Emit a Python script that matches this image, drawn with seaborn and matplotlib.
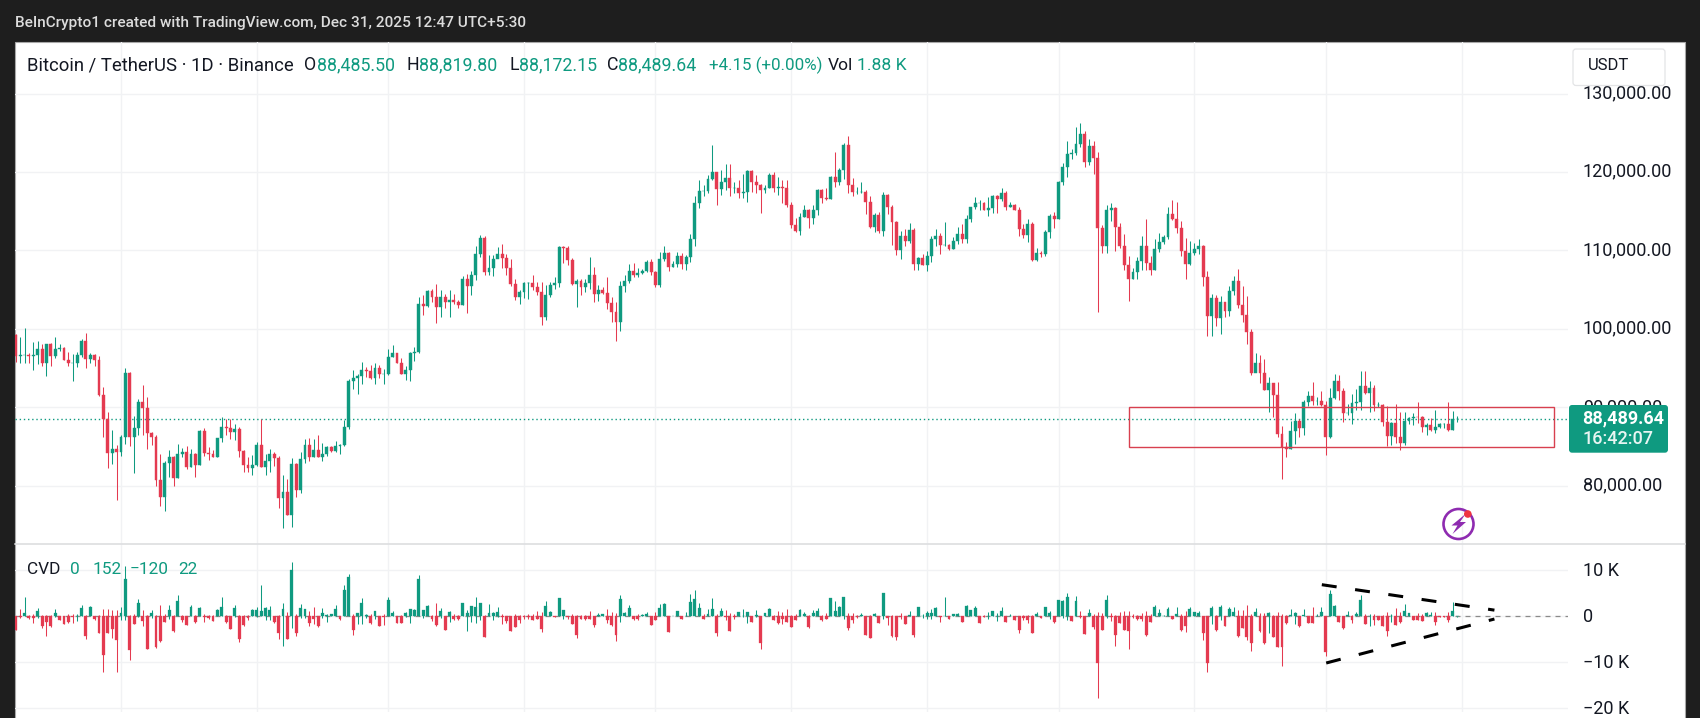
import numpy as np
import pandas as pd
import matplotlib
matplotlib.use("Agg")
import matplotlib.pyplot as plt
import seaborn as sns
from matplotlib.patches import FancyBboxPatch, Rectangle, Circle, Polygon
from matplotlib.transforms import IdentityTransform, ScaledTranslation

first_open = 99.15
close_k = [
 96.5,96.6,96.6,96.5,96.6,97.4,95.7,98.0,96.5,97.4,
 97.6,96.0,95.7,95.7,96.7,98.4,96.1,96.6,96.0,91.5,
 88.5,84.1,84.7,84.3,86.2,94.3,86.2,87.3,90.6,89.9,
 86.7,86.2,80.7,78.5,82.9,83.7,81.0,84.0,84.3,82.4,
 84.0,82.6,86.9,84.1,84.0,83.7,86.1,87.5,87.4,86.8,
 87.2,84.4,82.6,82.3,82.6,85.2,82.4,83.2,84.0,83.5,
 78.4,79.2,76.2,82.7,79.5,83.4,85.2,83.7,84.6,83.6,
 84.0,84.9,84.4,85.1,85.2,87.5,93.4,93.7,94.0,94.7,
 94.6,93.7,95.0,94.2,94.2,96.4,96.9,95.7,94.2,94.8,
 96.9,97.1,103.2,102.9,104.8,104.0,102.8,104.1,103.4,103.7,
 103.4,103.0,106.4,105.4,106.8,109.6,111.6,107.2,107.8,108.9,
 109.6,109.0,107.8,105.7,104.0,104.7,105.8,105.9,105.3,104.7,
 101.5,104.3,105.6,105.8,110.4,110.3,108.8,105.7,106.1,105.3,
 105.8,106.9,104.5,105.0,104.6,103.3,102.1,100.9,105.5,106.1,
 107.4,106.8,107.1,107.4,108.5,107.2,105.6,108.9,109.7,107.9,
 108.3,109.3,108.3,109.1,111.4,116.1,117.6,117.6,119.1,120.0,
 117.8,118.7,119.3,117.9,118.0,117.3,117.4,120.1,118.7,118.3,
 117.7,118.0,119.6,118.0,118.1,118.0,115.8,113.3,112.5,114.3,
 115.2,114.1,115.1,117.7,116.7,116.5,119.4,118.7,120.3,123.4,
 118.3,117.4,117.4,117.4,116.2,113.0,114.5,112.5,117.1,115.5,
 113.6,110.1,111.8,111.2,112.6,108.3,109.0,108.2,109.3,111.4,
 111.9,110.7,110.7,110.2,111.2,112.1,111.5,114.0,115.5,116.1,
 116.1,115.2,115.4,116.9,116.5,117.3,115.6,115.8,115.2,112.7,
 112.0,113.4,108.8,109.7,109.6,112.3,114.4,114.0,118.7,120.7,
 122.3,122.4,123.6,124.8,121.3,123.3,121.8,112.8,110.6,115.1,
 115.4,113.0,110.6,108.1,106.4,107.3,108.7,110.6,108.4,107.5,
 110.2,111.1,111.7,114.6,114.0,112.8,109.9,108.3,109.7,110.2,
 110.6,106.6,101.6,103.9,101.4,103.4,102.3,104.8,106.1,103.0,
 101.7,99.6,94.4,95.7,94.3,92.2,93.1,91.5,86.6,84.9,
 84.7,87.0,88.3,87.4,90.6,91.4,90.8,90.8,90.3,86.2,
 91.2,93.4,92.1,89.3,89.3,90.5,90.6,92.7,91.8,92.5,
 90.3,90.3,88.1,86.3,88.0,86.2,85.4,88.2,88.6,88.8,
 88.7,87.5,87.7,87.1,87.5,87.9,87.9,87.1,88.49,88.49]
high_k = [
 99.4,98.9,100.1,96.9,98.3,98.4,98.1,98.1,98.2,98.9,
 98.0,97.7,97.0,96.8,97.0,98.7,99.5,96.9,96.8,96.5,
 92.6,89.4,87.1,85.2,86.5,95.0,94.5,88.9,91.0,92.8,
 91.3,86.8,86.5,84.0,83.2,84.6,83.8,85.3,84.8,85.0,
 84.7,84.1,87.1,87.4,84.9,84.5,86.1,88.8,88.5,88.5,
 87.8,87.5,84.6,83.6,83.9,85.5,88.5,84.0,84.7,84.3,
 83.8,81.3,80.9,83.5,82.9,84.3,85.9,86.1,85.9,86.5,
 85.4,85.1,85.1,85.7,85.3,88.4,93.6,94.7,94.2,95.8,
 95.1,95.4,95.7,95.4,94.9,97.4,97.9,96.9,96.3,95.2,
 97.0,97.7,104.1,104.3,105.0,105.1,105.7,105.0,104.4,104.9,
 104.5,103.7,106.7,107.0,107.4,110.6,112.0,111.8,109.4,109.4,
 110.4,110.8,109.5,108.9,106.3,104.9,106.0,106.0,106.9,106.0,
 106.0,105.6,106.0,106.6,110.6,110.5,110.5,109.0,106.3,106.4,
 106.3,109.1,107.9,105.6,105.3,106.6,104.1,103.4,106.1,106.9,
 108.3,108.4,107.8,107.6,108.8,108.9,107.4,109.8,110.6,109.8,
 108.7,109.8,109.7,109.4,112.1,117.0,119.0,118.3,119.6,123.4,
 120.0,120.2,121.0,121.0,118.7,119.0,119.7,120.3,120.2,119.6,
 118.5,118.4,119.9,120.0,119.4,119.0,119.0,116.2,114.1,114.8,
 115.8,115.3,115.8,117.8,117.8,118.0,119.5,122.5,120.5,123.7,
 124.6,119.3,118.1,118.7,117.7,116.9,114.8,114.9,117.4,117.2,
 115.8,113.8,112.5,112.7,113.5,112.8,109.1,109.5,109.9,111.9,
 112.7,112.2,113.6,110.8,111.7,113.0,113.4,114.5,115.6,116.8,
 116.4,116.2,116.8,117.1,117.1,118.0,117.6,116.2,115.9,115.5,
 113.4,114.0,113.6,110.3,109.9,112.6,114.7,114.9,118.8,121.1,
 124.0,122.9,125.8,126.3,125.2,124.2,123.9,122.5,113.3,115.8,
 116.1,115.6,113.5,112.1,109.3,107.8,109.2,111.9,114.0,109.3,
 111.4,112.2,112.0,115.5,116.4,116.2,113.8,111.6,111.2,110.9,
 111.4,110.7,107.4,104.5,104.3,104.2,103.4,105.5,106.7,107.6,
 105.4,104.2,100.0,96.9,96.6,96.1,93.9,93.1,93.2,87.6,
 85.6,88.3,89.2,88.5,90.9,92.1,93.2,91.3,92.1,90.8,
 92.4,94.2,94.1,92.4,90.4,91.7,92.3,94.6,94.6,93.4,
 92.8,90.7,90.4,90.1,88.1,90.4,89.4,89.4,88.7,89.2,
 90.6,88.9,88.0,88.6,89.6,88.0,88.0,90.6,89.5,88.82]
low_k = [
 95.8,95.7,95.6,95.7,94.7,95.5,95.3,94.0,95.2,96.3,
 97.2,96.0,95.2,93.4,95.1,96.4,95.0,95.7,95.2,91.4,
 86.2,82.3,82.7,78.2,83.8,85.3,85.1,81.6,86.4,86.4,
 84.7,85.2,80.0,77.4,76.7,81.1,80.0,81.0,83.6,82.1,
 82.4,81.1,82.6,83.8,83.3,83.7,83.7,85.5,86.4,86.0,
 85.8,83.7,81.7,81.7,81.4,82.5,82.4,81.3,81.7,82.5,
 77.2,74.6,76.2,74.7,78.5,79.0,82.9,83.1,83.7,83.6,
 83.1,83.8,84.3,84.3,84.0,85.1,87.2,92.3,91.7,93.0,
 93.8,93.6,92.9,93.7,92.9,94.1,96.4,95.7,94.2,93.5,
 93.4,95.9,96.9,101.7,102.8,103.4,100.7,101.5,102.6,101.5,
 103.2,102.6,103.0,102.0,104.3,106.2,109.2,106.8,106.8,106.7,
 109.0,107.7,106.9,105.5,103.7,103.2,103.9,103.8,105.0,104.3,
 100.5,101.1,104.1,105.1,105.3,108.4,108.2,105.6,102.8,104.3,
 104.7,105.1,103.4,103.5,104.4,102.5,100.9,98.4,99.7,104.7,
 105.9,106.6,106.6,107.0,107.3,106.9,105.3,105.3,108.7,107.4,
 107.9,107.9,107.6,107.5,108.5,110.6,115.4,117.0,117.3,119.0,
 115.8,117.1,117.7,117.0,117.3,116.7,116.7,116.2,117.4,117.3,
 114.8,117.3,117.9,117.4,117.1,116.0,115.6,112.8,112.3,112.0,
 114.2,112.8,113.4,114.5,116.0,116.4,116.5,118.1,118.3,119.1,
 117.3,116.9,117.2,117.3,114.7,112.9,112.4,112.2,111.8,114.7,
 110.7,109.4,108.9,110.5,111.0,107.5,107.5,108.2,107.4,108.5,
 110.6,109.5,110.5,110.1,110.2,110.8,110.9,111.0,113.6,115.3,
 115.2,115.2,114.4,114.8,114.8,116.3,115.2,115.6,115.2,111.9,
 111.6,111.1,108.7,108.6,109.2,109.3,111.6,112.8,114.0,118.4,
 119.4,121.6,122.2,123.2,120.7,120.9,119.8,102.1,109.7,109.7,
 113.7,109.9,110.3,107.5,103.5,106.3,106.3,107.5,107.5,106.8,
 107.5,109.8,110.8,111.4,113.9,112.2,109.3,106.4,108.2,109.4,
 109.5,105.4,99.1,99.1,100.4,99.4,101.5,101.6,104.3,102.6,
 100.9,98.1,94.1,94.5,93.1,92.2,89.4,88.8,86.2,80.8,
 83.7,84.7,85.3,86.2,86.4,90.1,90.3,90.3,90.1,83.9,
 86.1,91.0,90.9,88.1,89.0,87.9,89.6,89.7,91.7,89.4,
 89.5,90.0,87.6,85.1,85.2,85.4,84.6,85.2,87.9,87.7,
 88.0,86.8,86.4,87.0,86.7,87.3,87.3,86.9,87.1,88.17]
cvd_close = [
 -3.0,-0.1,0.8,-0.3,-0.4,1.2,-2.1,-1.2,-2.1,0.7,
 -0.7,-1.6,-1.2,-0.1,0.1,1.7,-4.3,2.1,-0.5,-3.6,
 -8.4,-3.6,-2.7,-5.1,0.8,8.1,-7.3,-1.7,3.0,-1.0,
 -7.1,0.8,-6.7,-5.3,-1.2,1.4,-3.3,3.4,-0.8,-1.9,
 2.1,-1.2,1.9,-0.2,-0.4,-1.0,1.4,2.1,-1.2,-2.7,
 1.7,-5.0,-1.9,-0.4,1.4,1.3,1.2,1.8,1.4,-1.2,
 -3.6,1.5,-4.9,10.1,-3.6,1.7,1.5,-1.5,-0.6,-2.2,
 0.7,0.3,0.5,1.5,-0.6,5.7,8.5,-3.0,0.7,2.8,
 0.3,-1.5,1.2,-2.0,-0.2,3.6,0.7,-1.5,-1.4,0.7,
 1.5,1.4,8.1,1.4,2.2,-0.6,-1.9,1.2,-3.0,1.0,
 -0.6,-0.6,2.8,0.8,2.2,2.1,2.9,-4.4,0.7,0.8,
 1.0,-0.1,-1.0,-3.1,-2.4,-0.8,-0.2,-0.2,-0.9,-0.6,
 -2.7,2.2,0.9,-0.1,4.0,1.3,-0.1,-1.6,-4.1,-0.6,
 -0.5,-0.6,-1.8,0.2,0.5,-0.8,-1.8,-4.0,3.8,0.8,
 1.9,-0.6,-0.5,0.3,0.4,-1.8,-0.9,1.7,2.6,-3.5,
 0.1,1.2,-0.5,0.1,3.1,3.7,1.9,-0.5,0.5,1.5,
 -3.6,1.2,-0.1,-3.2,-0.1,0.9,0.1,0.9,-1.2,0.3,
 -5.7,0.8,1.5,-0.9,-1.4,-0.5,-1.2,-2.3,-0.9,1.3,
 0.5,-2.3,0.8,1.2,-0.8,-0.5,4.0,1.2,2.1,4.2,
 -2.6,-0.9,-0.2,0.2,-4.0,-4.7,0.5,-1.4,5.0,-0.4,
 -4.3,-4.5,-0.2,-1.6,0.2,-4.1,2.0,0.1,0.8,0.8,
 1.9,-0.1,0.1,-0.5,0.4,0.5,-1.2,2.3,1.3,1.7,
 -1.4,-0.1,0.1,1.2,0.1,1.1,-1.2,0.1,-0.7,-3.0,
 -0.4,-0.7,-3.6,0.6,-0.3,2.0,0.7,-1.3,3.5,3.3,
 4.1,-1.0,3.3,-0.1,-3.8,0.8,-2.4,-10.2,-3.0,3.5,
 -0.1,-4.0,-1.4,-2.9,-3.2,-0.1,-0.6,-0.6,-4.1,-1.2,
 2.0,0.7,0.1,1.6,-0.6,0.6,-2.9,-2.2,1.6,1.0,
 0.8,-3.7,-10.2,1.9,-3.0,2.0,-2.0,1.5,0.9,-4.3,
 -2.5,-4.4,-5.7,0.9,-3.1,-5.9,0.8,-4.4,-6.7,-6.6,
 -1.5,0.2,0.7,-2.1,0.3,-1.4,-1.4,0.1,0.9,-7.7,
 4.9,2.3,-1.2,-2.5,0.2,-0.8,0.4,3.6,-1.7,0.1,
 -0.8,-0.7,-2.1,-3.3,0.1,-1.9,-1.3,1.2,0.7,-0.7,
 -0.9,-1.0,0.8,0.2,-1.2,-0.1,-0.2,-0.9,1.2,0.02]
cvd_high = [
 0,1.5,4.3,0.2,0.4,1.7,0.3,0.3,0.2,1.5,
 0.1,0.1,0.5,0.6,0.6,2.5,0.3,2.2,0.1,0.3,
 1.5,1.5,1.4,1.4,2.1,10.9,0.3,0.5,3.7,1.4,
 0.3,1.4,0.2,2.4,0.5,2.4,0.2,4.6,0.3,0.1,
 2.5,0.3,2.1,0.6,0.3,0.2,1.5,4.3,0.2,0.1,
 2.5,0.3,0.3,0.3,1.5,2.0,6.8,2.0,2.2,0.1,
 0.3,2.8,1.0,11.7,0.4,2.7,1.6,1.2,2.1,0.1,
 1.7,0.6,0.5,2.5,0.1,6.8,9.3,0.6,0.7,3.9,
 0.4,0.4,1.2,0.1,0.6,4.1,1.2,0.1,0.3,1.0,
 1.5,1.5,9.0,1.4,2.5,0.2,2.8,1.7,0.1,1.2,
 0.4,0.2,2.8,1.4,2.2,4.3,2.9,0.3,2.6,1.0,
 2.0,0.5,0.1,0.1,0.5,0.2,0.2,0.5,0.5,1.1,
 0.9,3.4,1.1,0.1,4.0,1.3,0.1,0.5,0.3,0.3,
 0.3,1.1,0.1,0.8,0.5,1.6,0.9,0.8,4.6,0.9,
 2.5,0.1,0.5,0.5,0.9,0.1,0.9,2.6,2.8,0.1,
 0.1,1.2,0.1,0.9,4.8,5.7,2.9,0.5,1.5,4.0,
 0.5,1.9,1.3,0.8,0.5,0.9,1.5,1.0,0.1,1.3,
 0.1,0.8,1.9,0.3,1.2,0.9,1.6,0.2,0.5,1.5,
 0.9,0.3,1.3,1.9,0.2,0.8,4.0,3.4,2.2,4.2,
 0.8,0.8,0.3,0.8,0.1,0.2,0.8,0.1,5.0,0.1,
 0.3,0.1,0.8,0.1,1.2,0.1,2.0,0.5,1.2,1.5,
 2.0,0.1,4.3,0.1,0.4,0.7,0.1,2.5,1.4,2.3,
 0.1,0.2,1.0,1.2,0.8,2.0,0.1,0.4,0.1,0.1,
 0.2,0.2,0.2,1.0,0.0,2.1,1.2,0.1,3.5,3.6,
 5.1,0.0,4.5,1.1,0.1,1.5,0.6,1.0,0.8,4.7,
 0.8,0.2,1.0,1.2,1.1,0.6,0.2,0.8,1.2,0.4,
 2.4,1.6,0.2,2.0,0.1,2.0,0.6,1.2,2.0,1.0,
 1.2,0.1,0.1,2.3,0.3,2.5,0.0,2.1,2.1,1.4,
 1.4,2.5,0.4,1.7,0.7,0.8,0.9,0.3,1.0,0.4,
 0.3,1.6,1.0,0.1,1.5,0.1,2.0,0.6,2.0,0.1,
 5.7,2.5,0.1,0.1,1.2,0.3,0.9,4.6,0.4,0.6,
 0.4,0.1,0.3,0.9,0.4,1.7,1.0,2.7,0.7,0.1,
 0.8,0.4,1.0,1.0,0.9,0.0,0.0,1.0,3.2,0.15]
cvd_low = [
 -3.0,-0.3,0,-0.5,-1.4,-0.3,-2.6,-4.2,-2.3,-0.2,
 -0.8,-1.6,-1.5,-1.4,-1.0,0,-4.9,0,-0.9,-3.6,
 -12.0,-3.6,-4.8,-12.0,-0.8,-0.8,-9.5,-1.7,-0.1,-2.2,
 -7.1,-0.4,-6.9,-5.5,-1.2,-0.5,-3.5,0,-1.2,-1.9,
 0,-1.4,0,-1.2,-0.6,-1.0,0,0,-1.5,-2.7,
 -0.2,-5.5,-2.1,-0.7,0,-0.1,0,-0.7,-0.7,-1.4,
 -4.9,-6.4,-4.9,-2.5,-4.3,-0.4,-0.4,-2.1,-1.7,-2.3,
 -0.4,-1.2,0,0,-0.7,0,0,-4.1,-1.7,-1.7,
 -0.4,-1.7,-0.6,-2.0,-1.9,0,0,-1.5,-1.4,-0.1,
 -1.5,0,0,-0.4,0,-1.0,-2.2,-0.4,-3.0,-1.2,
 -0.7,-0.7,0,-3.1,-1.2,-1.4,-0.7,-4.4,0,-0.7,
 -0.1,-1.6,-1.4,-3.1,-2.4,-1.4,-0.6,-0.6,-0.9,-0.6,
 -3.5,0,0,-0.2,0,-0.6,-0.5,-1.6,-4.7,-0.6,
 -0.8,-0.6,-2.3,0,0,-1.4,-2.2,-5.3,-1.2,0,
 0,-0.7,-0.9,0,0,-1.8,-0.9,0,0,-3.5,
 0,0,-0.5,0,0,0,0,-0.5,0,0,
 -4.3,0,-0.8,-3.3,-0.6,0,-0.1,-1.4,-1.3,-0.2,
 -7.2,0,0,-0.9,-1.6,-1.6,-1.2,-2.4,-0.9,0,
 0,-2.6,0,0,-1.0,-0.5,0,0,0,-0.6,
 -3.0,-1.4,-0.3,0,-4.1,-4.8,0,-1.4,-0.6,-1.8,
 -4.5,-5.1,-0.6,-1.6,0,-4.5,0,-0.3,-0.6,-0.6,
 0,-1.2,0,-0.5,0,0,-1.2,0,0,0,
 -1.4,-0.2,-0.6,0,-1.1,0,-1.3,0,-0.7,-3.6,
 -0.8,-1.4,-3.6,0,-0.3,0,-0.5,-1.4,0,-0.3,
 -0.7,-1.0,0,-0.3,-3.8,0,-2.7,-17.8,-3.0,-0.4,
 -1.1,-6.4,-1.4,-3.0,-7.0,-0.4,-0.7,-1.1,-4.3,-1.2,
 0,0,0,0,-0.6,0,-3.3,-3.5,0,0,
 0,-5.2,-12.0,-1.6,-3.1,-0.7,-2.0,0,0,-4.4,
 -2.5,-5.1,-7.5,0,-3.4,-6.0,-3.7,-4.4,-6.7,-10.9,
 -1.7,0,-1.7,-2.4,0,-1.4,-1.4,0,0,-8.6,
 0,0,-1.3,-2.8,0,-1.4,0,0,-1.7,-2.2,
 -1.9,-0.7,-2.1,-4.2,-1.2,-1.9,-1.4,0,0,-0.7,
 -0.9,-1.1,0,0,-1.9,-0.2,-0.2,-1.2,0,-0.12]

month_starts = [24,55,85,116,146,177,208,238,269,299,330]
price_ticks = [80,90,100,110,120,130]
price_labels = ["80,000.00","90,000.00","100,000.00","110,000.00","120,000.00","130,000.00"]
cvd_ticks = [10,0,-10,-20]
cvd_labels = ["10 K","0","\u221210 K","\u221220 K"]
last_price = 88.49
box_x = [254, 351.2]
box_y = [84.95, 90.0]
tri_x_top = [298.1, 337.5]
tri_y_top = [6.87, 1.34]
tri_x_low = [299.1, 337.5]
tri_y_low = [-10.15, -0.59]

GREEN = "#0f9a80"
RED = "#e43a50"
GRID = "#f1f2f4"
TEXT = "#131722"
W, H = 1700, 718

sns.set_theme(style="white")
plt.rcParams["font.family"] = ["Roboto", "DejaVu Sans"]

fig = plt.figure(figsize=(W/100, H/100), dpi=100, facecolor="#1e1e1e")

def axbox(x0, y0, x1, y1):
    return [x0/W, 1-y1/H, (x1-x0)/W, (y1-y0)/H]

# white sheet behind panes and the scale column
fig.add_artist(Rectangle((15.3/W, -0.01), (1685-15.3)/W, 1.01-41.5/H, transform=fig.transFigure,
                         facecolor="white", edgecolor="#a8a8a8", linewidth=0.8, zorder=-5))

ax1 = fig.add_axes(axbox(15.3, 41.5, 1567.6, 544.3), facecolor="none")
ax2 = fig.add_axes(axbox(15.3, 544.3, 1567.6, 712), facecolor="none", sharex=ax1)

df = pd.DataFrame({"close": close_k, "high": high_k, "low": low_k,
                   "cvd": cvd_close, "cvd_h": cvd_high, "cvd_l": cvd_low})
df["i"] = np.arange(len(df))
df["open"] = df["close"].shift(1).fillna(first_open)
df["up"] = df["close"] >= df["open"]
df["color"] = np.where(df["up"], GREEN, RED)
df["cvd_color"] = np.where(df["cvd"] >= 0, GREEN, RED)
BAR = 0.66

ax1.vlines(df["i"], df["low"], df["high"], colors=df["color"], linewidth=0.75, zorder=3)
ax1.bar(df["i"], df["close"]-df["open"], bottom=df["open"], width=BAR, color=df["color"],
        edgecolor=df["color"], linewidth=0.3, zorder=4)

ax2.axhline(0, color="#8a8a8a", linewidth=0.9, dashes=(4, 4), zorder=2)
ax2.vlines(df["i"], df["cvd_l"], df["cvd_h"], colors=df["cvd_color"], linewidth=0.75, zorder=3)
ax2.bar(df["i"], df["cvd"], width=BAR, color=df["cvd_color"], edgecolor=df["cvd_color"],
        linewidth=0.2, zorder=4)

ax1.set_xlim(-0.114, 354.2)
ax1.set_ylim(72.51, 136.65)
ax2.set_ylim(-20.8, 15.65)

for ax, ticks, labels, lift in ((ax1, price_ticks, price_labels, 2.2), (ax2, cvd_ticks, cvd_labels, 1.5)):
    ax.set_xticks(month_starts)
    ax.set_yticks(ticks)
    ax.set_yticklabels(labels)
    ax.yaxis.tick_right()
    ax.tick_params(axis="y", length=0, pad=11, labelsize=13, labelcolor=TEXT)
    ax.tick_params(axis="x", length=0, labelbottom=False)
    ax.grid(True, color=GRID, linewidth=1.0)
    ax.set_axisbelow(True)
    sns.despine(ax=ax, left=True, right=True, top=True, bottom=True)
    shift = ScaledTranslation(0, lift/100, fig.dpi_scale_trans)
    for lab in ax.get_yticklabels():
        lab.set_transform(lab.get_transform() + shift)

# last price guide and the range box
ax1.axhline(last_price, color=GREEN, linewidth=1.0, dashes=(1, 2), zorder=2)
ax1.add_patch(Rectangle((box_x[0], box_y[0]), box_x[1]-box_x[0], box_y[1]-box_y[0],
                        fill=False, edgecolor="#d8404f", linewidth=1.0, zorder=6))

# hand-drawn triangle over the CVD pane
for xs, ys in ((tri_x_top, tri_y_top), (tri_x_low, tri_y_low)):
    sns.lineplot(x=xs, y=ys, ax=ax2, color="black", linewidth=2.2, errorbar=None,
                 linestyle=(0, (4.9, 6.1)), dash_capstyle="butt", zorder=7, legend=False)
ax2.set_xlabel(""); ax2.set_ylabel("")

# pane divider
fig.add_artist(plt.Line2D([15.3/W, 1685/W], [1-544.3/H]*2, color="#dfe0e2", linewidth=1.3))

# header and legends
def ftext(x, y, s, color=TEXT, size=11.5, **kw):
    fig.text(x/W, 1-y/H, s, color=color, fontsize=size, va="center", ha="left", **kw)

ftext(15, 23, "BeInCrypto1 created with TradingView.com, Dec 31, 2025 12:47 UTC+5:30",
      color="#dcdcdc", size=11.1, fontweight="medium")
ftext(27, 65, "Bitcoin / TetherUS \u00b7 1D \u00b7 Binance", size=13.3)
for x, s, c, sz in [(304, "O", TEXT, 12.8), (317, "88,485.50", GREEN, 12.8), (406, "H", TEXT, 12.8), (419, "88,819.80", GREEN, 12.8),
                (509, "L", TEXT, 12.8), (519, "88,172.15", GREEN, 12.8), (607, "C", TEXT, 12.8), (618, "88,489.64", GREEN, 12.8),
                (709, "+4.15 (+0.00%)", GREEN, 12.2), (828, "Vol", TEXT, 12.6), (857, "1.88 K", GREEN, 12.6)]:
    ftext(x, 65, s, color=c, size=sz)
for x, s, c in [(27, "CVD", TEXT), (70, "0", GREEN), (92, "152", GREEN), (130, "\u2212120", GREEN), (178, "22", GREEN)]:
    ftext(x, 569, s, color=c, size=12.4)

# overlays in pixel space, attached to the price axes so they sit over the tick labels
idt = IdentityTransform()
def pbox(x0, y0, x1, y1, **kw):
    p = FancyBboxPatch((x0, H-y1), x1-x0, y1-y0, transform=idt, clip_on=False,
                       boxstyle="round,pad=0,rounding_size=3", **kw)
    ax1.add_patch(p)

pbox(1573, 49, 1665, 85.5, facecolor="white", edgecolor="#e3e4e6", linewidth=0.9, zorder=10)
pbox(1569, 405, 1668, 452.7, facecolor=GREEN, edgecolor="none", zorder=10)
ax1.text(1588, H-66, "USDT", transform=idt, color=TEXT, fontsize=12, va="center", clip_on=False, zorder=11)
ax1.text(1582, H-418, "88,489.64", transform=idt, color="white", fontsize=13, fontweight="bold",
         va="center", clip_on=False, zorder=11)
ax1.text(1582, H-439, "16:42:07", transform=idt, color="#e8f5f2", fontsize=13, fontweight="medium",
         va="center", clip_on=False, zorder=11)

PURPLE = "#8e2bb0"
cx, cy = 1458.5, H-524
ax1.add_patch(Circle((cx, cy), 15, transform=idt, fill=False, edgecolor=PURPLE, linewidth=1.9,
                     clip_on=False, zorder=11))
bolt = [(cx+7, cy+10), (cx-7, cy-1.5), (cx-1, cy-1.5), (cx-6, cy-10), (cx+7.5, cy+2), (cx+1.5, cy+2)]
ax1.add_patch(Polygon(bolt, closed=True, transform=idt, facecolor=PURPLE, edgecolor="none",
                      clip_on=False, zorder=11))
ax1.add_patch(Circle((1467.8, H-514), 3.8, transform=idt, facecolor="#ef3340", edgecolor="none",
                     clip_on=False, zorder=12))

fig.savefig("out.png", dpi=100, facecolor=fig.get_facecolor())
